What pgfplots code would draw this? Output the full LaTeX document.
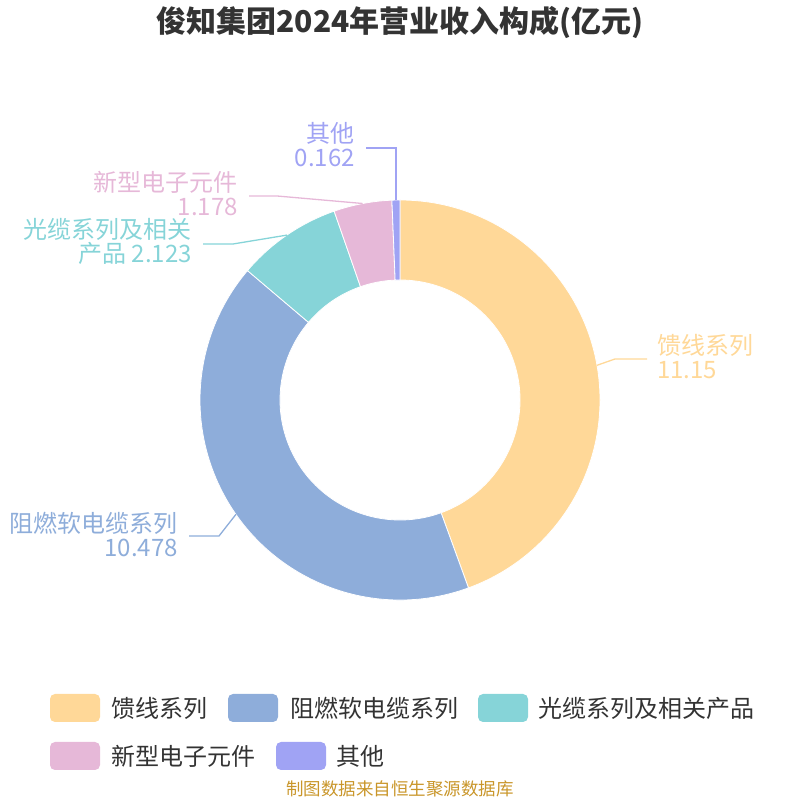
\documentclass[border=0pt]{standalone}
\usepackage{pgfplots}
\pgfplotsset{compat=1.18}
\usepackage{fontspec}
\setmainfont{Noto Sans CJK SC}

\definecolor{cFeed}{HTML}{FFD898}
\definecolor{cFire}{HTML}{8EADDA}
\definecolor{cOpt}{HTML}{86D4D8}
\definecolor{cElec}{HTML}{E6B8D8}
\definecolor{cOth}{HTML}{A0A3F4}
\definecolor{txt}{HTML}{333333}
\definecolor{src}{HTML}{C9962A}

% 2024 revenue by segment (亿元)
\def\vA{11.15}   % 馈线系列
\def\vB{10.478}  % 阻燃软电缆系列
\def\vC{2.123}   % 光缆系列及相关产品
\def\vD{1.178}   % 新型电子元件
\def\vE{0.162}   % 其他
\pgfmathsetmacro\tot{\vA+\vB+\vC+\vD+\vE}
\pgfmathsetmacro\aA{90}
\pgfmathsetmacro\aB{\aA-360*\vA/\tot}
\pgfmathsetmacro\aC{\aB-360*\vB/\tot}
\pgfmathsetmacro\aD{\aC-360*\vC/\tot}
\pgfmathsetmacro\aE{\aD-360*\vD/\tot}
\pgfmathsetmacro\aF{\aE-360*\vE/\tot}

% ring slice: start angle, end angle, colour
\newcommand\slice[3]{%
  \fill[#3, draw=white, line width=0.8pt]
    (axis cs:{200*cos(#1)},{200*sin(#1)}) arc[start angle=#1, end angle=#2, radius=200pt]
    -- (axis cs:{120*cos(#2)},{120*sin(#2)}) arc[start angle=#2, end angle=#1, radius=120pt]
    -- cycle;}

\newcommand\lbl{\fontsize{24}{24}\selectfont}

\begin{document}
\begin{tikzpicture}
\useasboundingbox (0pt,0pt) rectangle (800pt,800pt);
\begin{axis}[
  at={(0pt,0pt)}, anchor=south west,
  width=800pt, height=800pt, scale only axis,
  xmin=-400, xmax=400, ymin=-400, ymax=400,
  hide axis, clip=false,
]
\slice{\aA}{\aB}{cFeed}
\slice{\aB}{\aC}{cFire}
\slice{\aC}{\aD}{cOpt}
\slice{\aD}{\aE}{cElec}
\slice{\aE}{\aF}{cOth}

% label lines
\draw[cFeed, line width=1.3pt] (axis cs:197,34.7) -- (axis cs:215,41) -- (axis cs:247,41);
\draw[cFire, line width=1.3pt] (axis cs:-164,-114.3) -- (axis cs:-181,-136) -- (axis cs:-211,-136);
\draw[cOpt, line width=1.3pt] (axis cs:-113,164.9) -- (axis cs:-167,156) -- (axis cs:-197,156);
\draw[cElec, line width=1.3pt] (axis cs:-37.4,196.5) -- (axis cs:-123,204) -- (axis cs:-151,204);
\draw[cOth, line width=1.3pt] (axis cs:-4,200) -- (axis cs:-4,252) -- (axis cs:-34,252);

% labels
\node[cFeed, anchor=west, align=left, inner sep=0pt, font=\lbl] at (axis cs:257,43) {馈线系列\\11.15};
\node[cFire, anchor=east, align=right, inner sep=0pt, font=\lbl] at (axis cs:-222,-134.5) {阻燃软电缆系列\\10.478};
\node[cOpt, anchor=east, align=right, inner sep=0pt, font=\lbl] at (axis cs:-208,158.5) {光缆系列及相关\\产品 2.123};
\node[cElec, anchor=east, align=right, inner sep=0pt, font=\lbl] at (axis cs:-162,206.5) {新型电子元件\\1.178};
\node[cOth, anchor=east, align=right, inner sep=0pt, font=\lbl] at (axis cs:-45,255) {其他\\0.162};

% title
\node[txt, font=\fontsize{30}{30}\selectfont\bfseries] at (axis cs:0,377) {俊知集团2024年营业收入构成(亿元)};

% legend
\fill[cFeed, rounded corners=5pt] (axis cs:-350,-322) rectangle (axis cs:-300,-294);
\fill[cFire, rounded corners=5pt] (axis cs:-172,-322) rectangle (axis cs:-122,-294);
\fill[cOpt, rounded corners=5pt] (axis cs:78,-322) rectangle (axis cs:128,-294);
\fill[cElec, rounded corners=5pt] (axis cs:-350,-370) rectangle (axis cs:-300,-342);
\fill[cOth, rounded corners=5pt] (axis cs:-124,-370) rectangle (axis cs:-74,-342);
\node[txt, anchor=west, inner sep=0pt, font=\lbl] at (axis cs:-289,-308) {馈线系列};
\node[txt, anchor=west, inner sep=0pt, font=\lbl] at (axis cs:-110,-308) {阻燃软电缆系列};
\node[txt, anchor=west, inner sep=0pt, font=\lbl] at (axis cs:138,-308) {光缆系列及相关产品};
\node[txt, anchor=west, inner sep=0pt, font=\lbl] at (axis cs:-289,-356) {新型电子元件};
\node[txt, anchor=west, inner sep=0pt, font=\lbl] at (axis cs:-64,-356) {其他};

% source
\node[src, font=\fontsize{17.5}{17.5}\selectfont] at (axis cs:0,-389) {制图数据来自恒生聚源数据库};
\end{axis}
\end{tikzpicture}
\end{document}
